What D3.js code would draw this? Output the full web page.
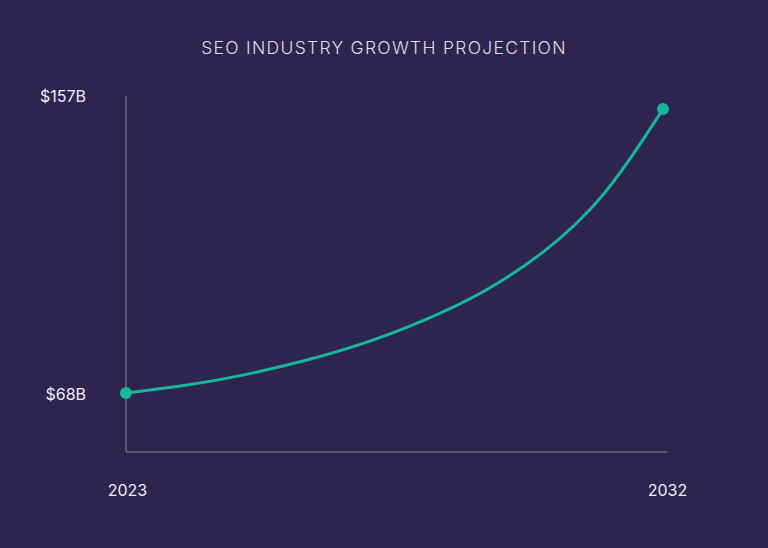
<!DOCTYPE html>
<html><head><meta charset="utf-8">
<script src="https://cdn.jsdelivr.net/npm/d3@7"></script>
<style>html,body{margin:0;padding:0;background:#2e2450;}svg{display:block;}</style>
</head><body>
<svg id="chart" width="768" height="548"></svg>
<script>
const years = [2023, 2024, 2025, 2026, 2027, 2028, 2029, 2030, 2031, 2032];
const values = [68, 70.2, 73.6, 78.0, 83.4, 90.6, 99.3, 111.6, 128.2, 157];
const yTickValues = [68, 157];
const yTickLabels = ["$68B", "$157B"];
const xTickValues = [2023, 2032];
const title = "SEO INDUSTRY GROWTH PROJECTION";

const svg = d3.select("#chart");
const W = 768, H = 548;
svg.append("rect").attr("width", W).attr("height", H).attr("fill", "#2e2450");

const x = d3.scaleLinear().domain([2023, 2032]).range([126, 663]);
const y = d3.scaleLinear().domain([68, 157]).range([393, 109]);

const font = "Inter, 'Noto Sans', sans-serif";

svg.append("text").attr("x", 384).attr("y", 54).attr("text-anchor", "middle")
  .attr("font-family", font).attr("font-size", 17.5).attr("font-weight", 300).attr("letter-spacing", 1.3)
  .attr("fill", "#e0dcea").text(title);

// axes lines
svg.append("line").attr("x1", 126).attr("x2", 126).attr("y1", 96).attr("y2", 452)
  .attr("stroke", "#6f6889").attr("stroke-width", 1.5);
svg.append("line").attr("x1", 126).attr("x2", 667).attr("y1", 452).attr("y2", 452)
  .attr("stroke", "#6f6889").attr("stroke-width", 1.5);

// y labels
svg.selectAll(".ylab").data(yTickValues).enter().append("text")
  .attr("x", 86).attr("y", d => y(d) + (d === 157 ? -13 : 1)).attr("dy", "0.35em")
  .attr("text-anchor", "end").attr("font-family", font).attr("font-size", 16)
  .attr("fill", "#eeebf4").text((d, i) => yTickLabels[i]);

// x labels
svg.selectAll(".xlab").data(xTickValues).enter().append("text")
  .attr("x", d => x(d) + (d === 2032 ? 4.5 : 1.5)).attr("y", 496)
  .attr("text-anchor", "middle").attr("font-family", font).attr("font-size", 16)
  .attr("fill", "#eeebf4").text(d => d);

const line = d3.line().x((d, i) => x(years[i])).y(d => y(d)).curve(d3.curveBasis);
svg.append("path").datum(values).attr("d", line).attr("fill", "none")
  .attr("stroke", "#13b899").attr("stroke-width", 3);

svg.selectAll(".pt").data([0, values.length - 1]).enter().append("circle")
  .attr("cx", i => x(years[i])).attr("cy", i => y(values[i])).attr("r", 6)
  .attr("fill", "#13b899");
</script>
</body></html>
